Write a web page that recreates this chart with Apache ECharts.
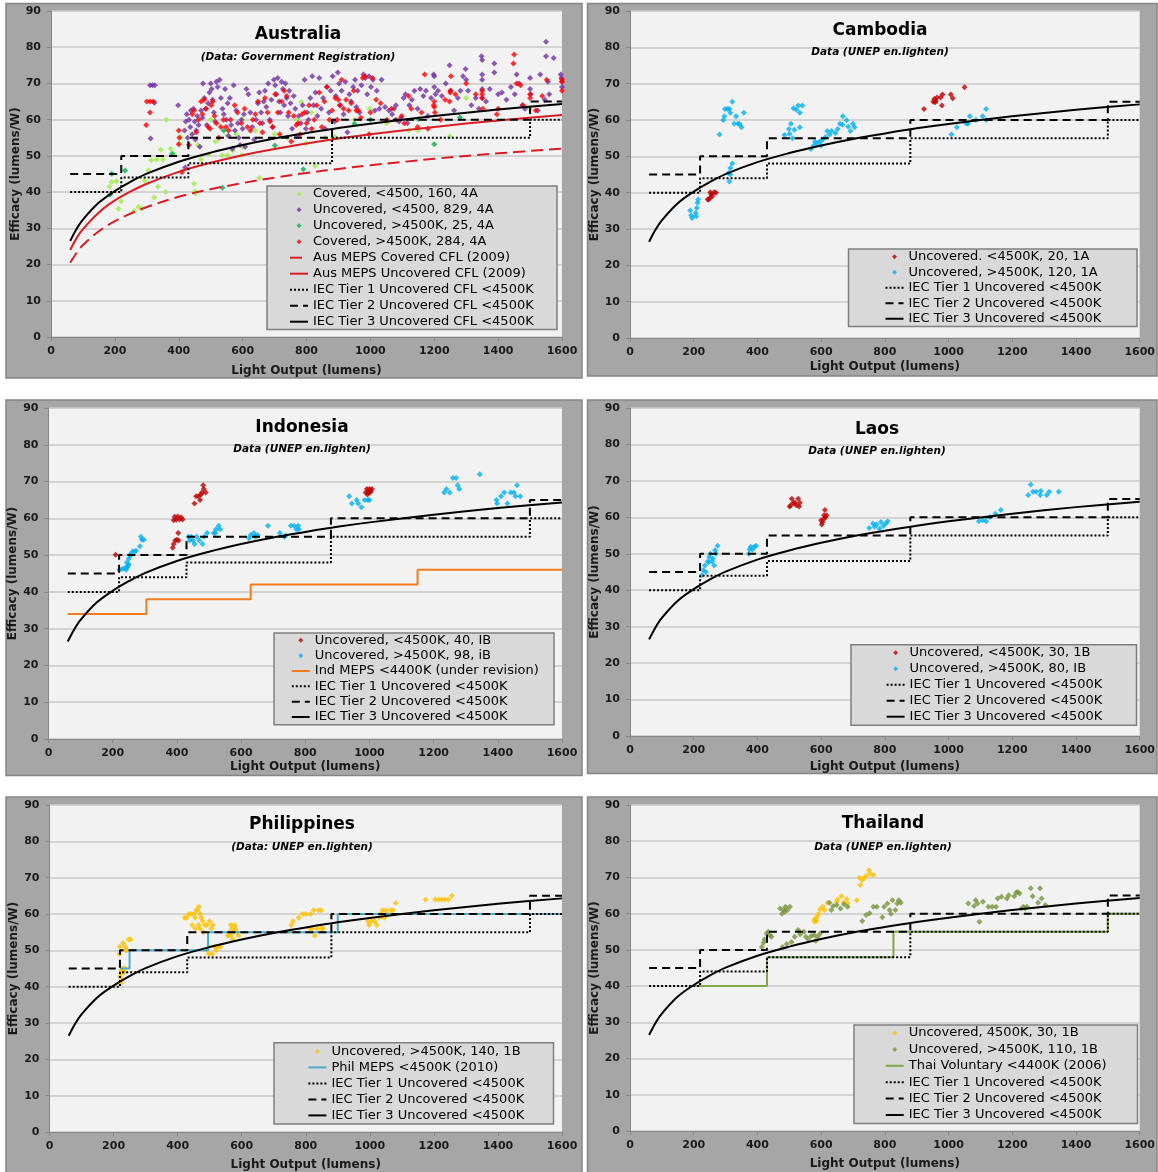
<!DOCTYPE html>
<html><head><meta charset="utf-8">
<script src="https://cdn.jsdelivr.net/npm/echarts/dist/echarts.min.js"></script>
<style>html,body{margin:0;padding:0;background:#fff}#c{width:1158px;height:1172px}</style>
</head><body><div id="c"></div>
<script>
// ---------- shared reference curves / step limits ----------
const curveX = [60, 80, 100, 150, 200, 250, 300, 400, 500, 600, 700, 800, 900, 1000, 1200, 1400, 1600];
const iecTier3 = [26.5, 29.8, 32.4, 37.1, 40.3, 42.9, 45.1, 48.4, 50.9, 53.0, 54.8, 56.3, 57.7, 58.9, 61.0, 62.8, 64.3];
const ausMepsUncovered = [24.0, 27.3, 29.8, 34.4, 37.7, 40.2, 42.3, 45.6, 48.1, 50.2, 51.9, 53.4, 54.8, 56.0, 58.0, 59.8, 61.3];
const ausMepsCovered = [20.5, 23.2, 25.4, 29.2, 32.0, 34.1, 35.9, 38.7, 40.8, 42.5, 44.0, 45.3, 46.4, 47.4, 49.2, 50.7, 52.0];

const tierEdges = [60, 220, 430, 880, 1500, 1600];
const tier1Levels = [40, 44, 48, 55, 60];
const tier2Levels = [45, 50, 55, 60, 65];
const indMepsEdges = [60, 305, 630, 1150, 1600];
const indMepsLevels = [34, 38, 42, 46];
const philMepsEdges = [220, 250, 495, 900, 1600];
const philMepsLevels = [45, 50, 55, 60];
const thaiEdges = [200, 430, 827, 1500, 1600];
const thaiLevels = [40, 48, 55, 60];

const xTicks = {min: 0, max: 1600, step: 200};
const yTicks = {min: 0, max: 90, step: 10};

// ---------- Australia ----------
const ausCoveredLow = [[183,41.5],[190,42.8],[205,43],[211,35.4],[219,37.5],[260,34.8],[274,35.9],[283,35.4],[293,43.2],[305,46],[314,48.8],[323,38.5],[330,49],[335,41.5],[344,51.7],[350,49],[361,60],[359,40],[375,52],[385,50.5],[405,55.2],[403,53.4],[448,42.3],[450,40.2],[452,39.6],[460,53],[470,49],[495,50.5],[500,60],[515,54],[536,50.2],[552,55.7],[552,50.2],[569,51.5],[580,56],[597,50.2],[600,60],[601,52.5],[640,57],[652,43.9],[700,56],[740,55],[770,60],[784,64.9],[798,53.4],[815,62],[827,47.2],[860,55],[889,55.2],[950,60],[997,63],[1051,59],[1120,57],[1149,57],[1249,55.4],[1300,66],[1500,63]];
const ausUncoveredLow = [[310,69.5],[318,69.5],[325,69.5],[324,64.7],[312,54.8],[398,64],[420,46.8],[418,57],[422,59.5],[425,61.5],[428,55],[432,60],[436,58],[438,62.5],[442,56],[446,63],[450,59.5],[452,54.5],[455,57],[458,61],[462,58.5],[466,52.5],[470,62.5],[474,60.5],[476,70],[480,66],[484,63],[488,58.5],[492,64.5],[496,67.5],[500,70],[503,68.5],[506,65.5],[510,62],[514,59.5],[518,70.5],[522,69],[528,71],[532,66],[537,63],[541,61.5],[545,68.5],[549,60],[553,64.5],[556,55.5],[560,66],[564,58.5],[568,52],[572,69.5],[576,57],[580,62.5],[585,59],[588,55],[592,53],[596,60],[600,57.5],[604,61.5],[608,52.5],[612,68.5],[618,67],[624,62],[630,58],[636,54.5],[642,60],[648,64.5],[652,67.5],[658,62],[662,59],[666,65],[670,68],[674,63.5],[680,70],[685,60],[690,65.5],[694,58],[698,71],[702,69.5],[706,67],[710,71.5],[714,65],[718,62],[722,70.5],[726,68.5],[730,64],[734,70],[738,66],[742,61],[746,68],[750,64.5],[755,57.5],[760,66.5],[765,63],[770,55.5],[776,61],[782,59],[788,64],[794,71],[798,57.5],[802,62],[806,60],[812,66],[818,72],[822,64],[828,67.5],[834,61],[840,71.5],[846,63],[852,66],[858,57.5],[864,69],[870,62],[876,68],[882,72],[888,59.5],[892,66.5],[898,73],[902,70],[906,64],[910,68],[916,61.5],[922,70.5],[928,56.5],[934,67],[940,65],[946,69],[952,71],[956,63.5],[960,68],[966,62],[972,69.5],[978,72.5],[984,71.5],[990,67],[996,72],[1002,69],[1008,71],[1014,62.5],[1020,68],[1028,63],[1035,71],[1046,63.5],[1058,62.5],[1068,61.5],[1074,63],[1080,64],[1090,59.5],[1096,60.5],[1104,66],[1110,67],[1116,59],[1122,64],[1130,65.5],[1138,68],[1148,63],[1156,68.5],[1166,66.5],[1174,68],[1180,61],[1190,66],[1198,72.5],[1200,72],[1200,69],[1204,67],[1212,68],[1224,66.5],[1236,70],[1248,75],[1252,68],[1262,62.5],[1274,66],[1282,68],[1290,72],[1298,74],[1300,71],[1306,68],[1316,64],[1330,66],[1340,63],[1348,77.5],[1350,76.5],[1350,72.5],[1350,71],[1350,68.5],[1350,66],[1362,65],[1374,68.5],[1388,75.5],[1388,73],[1400,67],[1412,67.5],[1426,65.5],[1440,69],[1452,67],[1458,72.5],[1466,70],[1476,64],[1484,63],[1500,71.5],[1500,68.5],[1502,67],[1524,62.5],[1532,72.5],[1546,65.5],[1550,81.5],[1550,77.5],[1556,70.5],[1560,67],[1574,77],[1596,72.5],[1598,71.5],[1600,70.5],[1600,69]];
const ausUncoveredHigh = [[185,39.3],[190,45.1],[232,46],[379,50.6],[541,57],[537,41.2],[701,52.9],[790,46.3],[950,58.9],[1000,60],[1150,60.2],[1200,53.2],[1280,60.6]];
const ausCoveredHigh = [[298,58.5],[300,65],[310,62],[310,65],[320,65],[400,57],[402,55],[400,53.2],[410,45.5],[432,53],[442,61.5],[448,62.5],[455,56.5],[462,60],[470,65],[474,61.5],[480,65.5],[486,63],[492,58],[498,57.5],[502,64],[506,65],[512,61],[518,59],[525,55],[532,58],[540,60],[548,58],[556,57],[562,60],[575,64],[584,62],[596,59],[606,63],[615,58],[624,57],[632,60],[640,61.5],[648,65],[654,59],[662,56.5],[670,66],[678,62],[686,59.5],[694,58],[702,67],[710,62],[716,56],[722,65],[730,68],[738,66.5],[744,62],[752,54],[760,61],[768,58.5],[774,59],[780,56],[786,61.5],[794,62],[800,59],[808,64],[816,57.5],[824,60],[832,64],[840,67.5],[848,58],[856,65],[864,69],[872,60],[880,62.5],[890,66],[896,60],[900,65.5],[904,64],[910,71],[916,63],[924,65.5],[932,62.5],[940,64.5],[948,68],[956,62.5],[962,62.5],[970,60.5],[976,71.5],[984,72],[996,56],[1000,62],[1006,71.5],[1018,65.5],[1032,64.5],[1052,60],[1066,63],[1080,60],[1098,61],[1106,59],[1120,66.5],[1128,63],[1148,58],[1160,62],[1170,72.5],[1180,57.5],[1198,64],[1200,65],[1200,63.5],[1202,62],[1220,60],[1234,65.5],[1248,65],[1250,67.5],[1250,68],[1252,72],[1266,67],[1300,70],[1330,67],[1350,68],[1350,67],[1350,66],[1352,63],[1396,61.5],[1400,63],[1448,75.5],[1450,78],[1458,70],[1470,69.5],[1478,64],[1500,67],[1500,66],[1518,62.5],[1538,66.5],[1552,71],[1600,70.5],[1600,71],[1600,68]];

// ---------- Cambodia ----------
const camUncoveredLow = [[244,38.1],[247,38.1],[252,38.6],[258,39],[252,40.1],[264,40.1],[270,40],[255,39.5],[923,63],[952,65],[955,65.8],[958,64.9],[964,66.2],[975,66.2],[981,67],[979,64],[1007,67],[1013,66],[1050,69],[960,65.2]];
const camUncoveredHigh = [[189,35.1],[192,33.7],[195,33],[206,34.4],[210,35.8],[212,37.2],[214,38.1],[208,33.5],[281,56],[293,60],[296,61],[298,63],[306,63],[312,63],[315,62],[321,65],[327,59],[333,61],[339,59],[344,58.9],[350,58],[357,62],[310,45.4],[315,46.8],[321,48],[312,43.1],[315,45],[485,55.9],[499,57.5],[505,59],[510,55],[516,57.3],[513,63.2],[522,62.8],[528,64],[533,62],[541,64],[533,58],[501,56.2],[568,52],[577,53],[581,54],[587,53.5],[594,54],[600,53],[604,54.5],[614,55.3],[619,57],[627,56],[633,57],[645,56.4],[652,57.5],[659,59],[667,58.7],[668,61],[680,59.9],[685,58.2],[692,57],[700,59],[705,58],[1009,56],[1026,58],[1055,59.1],[1061,59],[1067,61],[1086,60],[1107,61],[1118,63],[1118,60]];

// ---------- Indonesia ----------
const indUncoveredLow = [[209,50.1],[387,52],[390,53],[395,54],[400,54.2],[405,54],[390,59.5],[393,60.4],[398,59.6],[403,60.5],[408,59.7],[413,60.3],[418,59.7],[404,56],[455,64],[460,66],[468,66],[472,65],[475,66.5],[478,67],[482,69],[484,68],[490,67],[988,67],[992,68],[994,66.5],[996,67],[1000,68],[1002,67],[1004,67.4],[1008,68]];
const indUncoveredHigh = [[221,46],[230,46.2],[238,46.5],[242,46],[244,48],[245,46.8],[247,47],[250,49],[250,47.5],[253,50],[256,50],[262,51],[268,51],[273,51.2],[285,52.4],[291,54.2],[288,55],[297,54.2],[436,55],[440,54],[445,55],[450,54],[455,53],[462,55],[470,54],[480,53],[485,55],[494,56],[515,56],[520,56],[522,57],[530,58],[535,57],[625,54.6],[630,55.5],[640,56],[645,55],[651,55.5],[684,58],[721,56],[735,55],[740,55.3],[755,58],[765,58],[772,57],[778,58],[780,57],[937,66],[945,64],[960,65],[965,64],[975,63],[985,65],[995,65],[1000,65],[1233,67],[1240,68],[1250,67],[1260,71],[1270,71],[1275,69],[1280,68],[1344,72],[1396,65],[1398,64],[1410,66],[1420,67],[1430,64],[1440,67],[1450,67],[1455,66],[1460,69],[1470,66]];

// ---------- Laos ----------
const laoUncoveredLow = [[501,63],[505,63.3],[508,65.1],[513,64],[518,64],[522,63.3],[528,65.1],[531,63],[533,64],[600,59.2],[602,58],[604,58.7],[608,59.5],[609,60.6],[612,62],[614,60],[617,60.6]];
const laoUncoveredHigh = [[226,44.1],[230,45.5],[235,46.8],[238,45],[244,47.9],[247,47.7],[249,49.1],[252,50],[258,47.9],[260,48.7],[264,46.8],[267,51],[270,50],[275,52.2],[373,50],[375,51.2],[379,51.9],[384,51.2],[390,51.9],[396,52.2],[751,57.1],[763,58.3],[768,57.4],[774,58],[783,56.9],[788,58.7],[795,57.6],[803,58.3],[809,58.9],[1095,58.9],[1107,59.2],[1118,58.9],[1130,60.1],[1147,61],[1164,62],[1250,66.1],[1258,69],[1265,67],[1275,67],[1288,66.1],[1290,67.2],[1308,66.1],[1316,67],[1346,67]];

// ---------- Philippines ----------
const phiUncoveredHigh = [[218,49],[220,51],[230,52],[236,51],[238,50],[241,50],[247,53],[253,53],[224,44.6],[224,43.7],[230,45],[232,44],[236,45],[224,41],[227,41.9],[220,42.8],[422,59],[428,59],[435,60],[443,60],[450,60],[455,59],[458,61],[462,61],[466,62],[470,60],[474,59],[478,58],[445,57],[455,56],[465,57],[470,56],[480,55],[485,57],[492,57],[500,58],[505,56],[510,57],[492,50],[498,49],[508,49],[515,51],[520,50],[525,51],[533,51],[556,54],[562,55],[565,54],[566,57],[570,56],[572,53],[575,55],[578,57],[580,56],[585,55],[590,54],[749,55.2],[755,57],[760,58],[778,59],[790,60],[800,60],[815,60],[825,61],[840,61],[848,61],[813,56],[820,56],[828,54],[835,56],[848,56],[854,56],[994,58],[998,57],[1005,58],[1015,58],[1022,57],[1030,59],[1035,60],[1040,61],[1045,59],[1050,61],[1055,60],[1065,61],[1072,61],[1081,63],[1174,64],[1204,64],[1215,64],[1225,64],[1235,64],[1245,64],[1256,65]];

// ---------- Thailand ----------
const thaUncovered4500 = [[580,57.8],[582,58.7],[587,59.1],[592,60],[597,61.2],[605,61.9],[611,61],[620,63],[649,63.3],[652,63.9],[664,64.8],[670,63],[680,64],[683,62.8],[712,63.7],[720,69.9],[723,67.9],[729,69.3],[735,69.9],[741,70.4],[750,72],[753,71.1],[764,70.7],[578,58.2],[585,58]];
const thaUncoveredHigh = [[414,50.8],[419,52],[422,52.9],[429,54.5],[434,55],[440,54],[444,53.6],[471,61.4],[477,60],[482,61],[486,60.5],[488,61.9],[494,61],[502,61.9],[479,50.8],[492,51.6],[507,52.2],[517,53.6],[528,55.5],[534,54.3],[546,55],[552,53.6],[559,53],[569,53.8],[578,54.1],[583,52.5],[589,53.6],[597,54.5],[626,63],[632,61],[638,62.1],[649,62.4],[661,61.4],[672,62.6],[683,61.9],[729,58],[741,59.6],[752,60.1],[764,61.9],[775,61.9],[792,59],[798,61.9],[808,62.8],[815,61],[819,60],[824,63.7],[833,61],[839,62.8],[844,63.7],[850,63],[1062,62.8],[1080,62.1],[1085,63.7],[1091,62.8],[1097,57.8],[1108,63.3],[1125,61.9],[1137,61.9],[1149,61.9],[1154,64.2],[1166,64.7],[1183,64.2],[1189,65.1],[1206,64.8],[1212,65.8],[1217,66],[1223,65.6],[1229,61.4],[1235,61.9],[1241,61.4],[1246,61.9],[1258,67],[1264,64.8],[1281,63],[1287,67],[1292,64.2],[1304,62.4]];

// ---------- helpers ----------
function stepData(edges, levels) {
  const d = [];
  for (let i = 0; i < levels.length; i++) { d.push([edges[i], levels[i]]); d.push([edges[i + 1], levels[i]]); }
  return d;
}
function curveData(ys) { return curveX.map((x, i) => [x, ys[i]]); }

const FONT = 'DejaVu Sans';
const DOT = [2, 2], DASH = [8, 5], LONGDASH = [12, 6];
const DIAMOND_ICON = 'path://M5,0L10,5L5,10L0,5Z';

function sc(name, data, color, gi) {
  return {type: 'scatter', name, data, xAxisIndex: gi, yAxisIndex: gi, symbol: 'diamond', symbolSize: 6,
    itemStyle: {color}, z: 2, silent: true};
}
function ln(name, data, color, type, gi, smooth) {
  return {type: 'line', name, data, xAxisIndex: gi, yAxisIndex: gi, symbol: 'none', showSymbol: false,
    smooth: smooth ? 0.35 : false, lineStyle: {color, type, width: 2}, itemStyle: {color}, z: 3, silent: true};
}

// panel layout (positions only)
const panels = [
  {title: 'Australia', sub: '(Data: Government Registration)', frame: [6, 3.5, 576, 374.5], grid: [51, 11, 511, 326], t: [298, 35], s: [298, 57.5], xGap: 27.5, box: [267, 186, 290, 143.5], leg: [289, 185.7, 16]},
  {title: 'Cambodia', sub: 'Data (UNEP en.lighten)', frame: [587.5, 3.5, 569.5, 372.5], grid: [630, 11, 511, 327], t: [880, 31], s: [880, 52], xGap: 23, box: [848.5, 249, 288.5, 77.6], leg: [884.5, 249, 15.5]},
  {title: 'Indonesia', sub: 'Data (UNEP en.lighten)', frame: [6, 400, 576, 375.5], grid: [48.5, 408, 513.5, 331], t: [302, 428], s: [302, 449], xGap: 22, box: [274, 633, 280, 91.7], leg: [290.8, 632.6, 15.35]},
  {title: 'Laos', sub: 'Data (UNEP en.lighten)', frame: [587.5, 400, 569.5, 373.5], grid: [630, 408, 511, 328], t: [877, 430], s: [877, 451], xGap: 25, box: [851, 644.7, 285.5, 80.6], leg: [885.6, 644.7, 16]},
  {title: 'Philippines', sub: '(Data: UNEP en.lighten)', frame: [6, 797, 576, 376], grid: [49.5, 805, 512.5, 327.5], t: [302, 825], s: [302, 847], xGap: 27, box: [274, 1042.7, 279.5, 81.2], leg: [307.4, 1043.4, 16]},
  {title: 'Thailand', sub: 'Data (UNEP en.lighten)', frame: [587.5, 797, 569.5, 376], grid: [630, 805, 511, 326], t: [883, 824], s: [883, 847], xGap: 27, box: [854, 1025, 283.5, 98.4], leg: [884.7, 1024.8, 16.4]}
];

const T1 = 'IEC Tier 1 Uncovered <4500K', T2 = 'IEC Tier 2 Uncovered <4500K', T3 = 'IEC Tier 3 Uncovered <4500K';
function tiers(gi, n1, n2, n3) {
  return [ln(n1, stepData(tierEdges, tier1Levels), '#000', DOT, gi),
          ln(n2, stepData(tierEdges, tier2Levels), '#000', DASH, gi),
          ln(n3, curveData(iecTier3), '#000', 'solid', gi, true)];
}

const panelSeries = [
  [sc('Covered, <4500, 160, 4A', ausCoveredLow, '#9bef45', 0),
   sc('Uncovered, <4500, 829, 4A', ausUncoveredLow, '#7030a0', 0),
   sc('Uncovered, >4500K, 25, 4A', ausUncoveredHigh, '#00b050', 0),
   sc('Covered, >4500K, 284, 4A', ausCoveredHigh, '#ff0000', 0),
   ln('Aus MEPS Covered CFL (2009)', curveData(ausMepsCovered), '#dc1c24', LONGDASH, 0, true),
   ln('Aus MEPS Uncovered CFL (2009)', curveData(ausMepsUncovered), '#dc1c24', 'solid', 0, true),
   ...tiers(0, 'IEC Tier 1 Uncovered CFL <4500K', 'IEC Tier 2 Uncovered CFL <4500K', 'IEC Tier 3 Uncovered CFL <4500K')],
  [sc('Uncovered. <4500K, 20, 1A', camUncoveredLow, '#c00000', 1),
   sc('Uncovered, >4500K, 120, 1A', camUncoveredHigh, '#00b0f0', 1),
   ...tiers(1, T1, T2, T3)],
  [sc('Uncovered, <4500K, 40, IB', indUncoveredLow, '#c00000', 2),
   sc('Uncovered, >4500K, 98, iB', indUncoveredHigh, '#00b0f0', 2),
   ln('Ind MEPS <4400K (under revision)', stepData(indMepsEdges, indMepsLevels), '#f47c20', 'solid', 2),
   ...tiers(2, T1, T2, T3)],
  [sc('Uncovered, <4500K, 30, 1B', laoUncoveredLow, '#c00000', 3),
   sc('Uncovered, >4500K, 80, IB', laoUncoveredHigh, '#00b0f0', 3),
   ...tiers(3, T1, T2, T3)],
  [sc('Uncovered, >4500K, 140, 1B', phiUncoveredHigh, '#ffc000', 4),
   ln('Phil MEPS <4500K (2010)', stepData(philMepsEdges, philMepsLevels), '#4bacc6', 'solid', 4),
   ...tiers(4, T1, T2, T3)],
  [sc('Uncovered, 4500K, 30, 1B', thaUncovered4500, '#ffc000', 5),
   sc('Uncovered, >4500K, 110, 1B', thaUncoveredHigh, '#77933c', 5),
   ln('Thai Voluntary <4400K (2006)', stepData(thaiEdges, thaiLevels), '#7fa845', 'solid', 5),
   ...tiers(5, T1, T2, T3)]
];

const axisLabelStyle = {fontFamily: FONT, fontSize: 11, fontWeight: 'bold', color: '#1a1a1a', formatter: v => String(v)};
const axisNameStyle = {fontFamily: FONT, fontSize: 12, fontWeight: 'bold', color: '#1a1a1a'};
const axisLineStyle = {color: '#868686', width: 1};

const graphics = [];
panels.forEach(p => {
  graphics.push({type: 'rect', shape: {x: p.frame[0], y: p.frame[1], width: p.frame[2], height: p.frame[3]},
    style: {fill: '#a6a6a6', stroke: '#858585', lineWidth: 1.5}, z: -10, silent: true});
  graphics.push({type: 'rect', shape: {x: p.box[0], y: p.box[1], width: p.box[2], height: p.box[3]},
    style: {fill: '#d9d9d9', stroke: '#7f7f7f', lineWidth: 1.5}, z: 15, silent: true});
  graphics.push({type: 'text', x: p.t[0], y: p.t[1], z: 20, silent: true,
    style: {text: p.title, font: 'bold 17px ' + FONT, fill: '#000', textAlign: 'center', textVerticalAlign: 'middle'}});
  graphics.push({type: 'text', x: p.s[0], y: p.s[1], z: 20, silent: true,
    style: {text: p.sub, font: 'italic bold 10.5px ' + FONT, fill: '#000', textAlign: 'center', textVerticalAlign: 'middle'}});
});

const option = {
  animation: false,
  backgroundColor: '#ffffff',
  textStyle: {fontFamily: FONT},
  grid: panels.map(p => ({left: p.grid[0], top: p.grid[1], width: p.grid[2], height: p.grid[3], show: true,
    backgroundColor: '#f2f2f2', borderWidth: 0})),
  xAxis: panels.map((p, i) => ({gridIndex: i, type: 'value', min: xTicks.min, max: xTicks.max, interval: xTicks.step,
    name: 'Light Output (lumens)', nameLocation: 'middle', nameGap: p.xGap, nameTextStyle: axisNameStyle,
    axisLine: {show: true, onZero: false, lineStyle: axisLineStyle},
    axisTick: {show: true, length: 4, lineStyle: axisLineStyle},
    axisLabel: Object.assign({margin: 9}, axisLabelStyle), splitLine: {show: false}})),
  yAxis: panels.map((p, i) => ({gridIndex: i, type: 'value', min: yTicks.min, max: yTicks.max, interval: yTicks.step,
    name: 'Efficacy (lumens/W)', nameLocation: 'middle', nameGap: 28, nameTextStyle: axisNameStyle,
    axisLine: {show: true, onZero: false, lineStyle: axisLineStyle},
    axisTick: {show: true, length: 4, lineStyle: axisLineStyle},
    axisLabel: Object.assign({margin: 10}, axisLabelStyle),
    splitLine: {show: true, lineStyle: {color: '#c8c8c8', width: 1.5}}})),
  legend: panels.map((p, i) => ({
    data: panelSeries[i].map(s => s.type === 'line'
      ? {name: s.name, itemStyle: {opacity: 0}}
      : {name: s.name, icon: DIAMOND_ICON}),
    orient: 'vertical', align: 'left', left: p.leg[0], top: p.leg[1], padding: 0, itemGap: 0,
    itemWidth: 18, itemHeight: 5, symbolKeepAspect: true, selectedMode: false, z: 20,
    textStyle: {fontFamily: FONT, fontSize: 13, color: '#000', lineHeight: p.leg[2]}
  })),
  graphic: {elements: graphics},
  series: panelSeries.flat()
};

const chart = echarts.init(document.getElementById('c'), null, {renderer: 'canvas'});
chart.setOption(option);
</script></body></html>
